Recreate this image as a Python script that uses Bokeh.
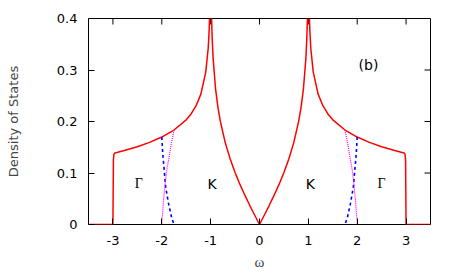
from bokeh.plotting import figure
from bokeh.models import Range1d, FixedTicker, Label
from bokeh.embed import file_html
from bokeh.resources import INLINE

# ---- data ----
omega = [-3.5, -3.0, -2.99, -2.98, -2.96, -2.9, -2.75, -2.5, -2.25, -2.0, -1.75, -1.5, -1.4,
         -1.3, -1.2, -1.1, -1.05, -1.03, -1.02, -1.01, -1.0, -0.99, -0.98, -0.97, -0.95,
         -0.9, -0.85, -0.8, -0.7, -0.6, -0.5, -0.4, -0.3, -0.2, -0.1, 0.0,
         0.1, 0.2, 0.3, 0.4, 0.5, 0.6, 0.7, 0.8, 0.85, 0.9, 0.95, 0.97, 0.98, 0.99, 1.0,
         1.01, 1.02, 1.03, 1.05, 1.1, 1.2, 1.3, 1.4, 1.5, 1.75, 2.0, 2.25, 2.5, 2.75, 2.9,
         2.96, 2.98, 2.99, 3.0, 3.5]
dos = [0.0, 0.0, 0.125, 0.136, 0.139, 0.1402, 0.1440, 0.1511, 0.1595, 0.1698, 0.1834, 0.2033, 0.2147,
       0.2302, 0.2532, 0.2959, 0.3422, 0.3779, 0.407, 0.46, 0.5, 0.45, 0.398, 0.3656, 0.3236,
       0.264, 0.2271, 0.1996, 0.1585, 0.1271, 0.1008, 0.0778, 0.0569, 0.0373, 0.0184, 0.0,
       0.0184, 0.0373, 0.0569, 0.0778, 0.1008, 0.1271, 0.1585, 0.1996, 0.2271, 0.264, 0.3236, 0.3656, 0.398, 0.45, 0.5,
       0.46, 0.407, 0.3779, 0.3422, 0.2959, 0.2532, 0.2302, 0.2147, 0.2033, 0.1834, 0.1698, 0.1595, 0.1511, 0.1440, 0.1402,
       0.139, 0.136, 0.125, 0.0, 0.0]

blue_left_w = [-2.0, -1.98, -1.95, -1.92, -1.86, -1.80, -1.75]
blue_left_v = [0.170, 0.137, 0.105, 0.072, 0.040, 0.014, 0.0]
mag_left_w = [-1.75, -1.82, -1.85, -1.90, -1.94, -1.97, -2.0]
mag_left_v = [0.183, 0.150, 0.131, 0.105, 0.072, 0.040, 0.0]
blue_right_w = [2.0, 1.98, 1.95, 1.92, 1.86, 1.80, 1.75]
blue_right_v = [0.170, 0.137, 0.105, 0.072, 0.040, 0.014, 0.0]
mag_right_w = [1.75, 1.82, 1.85, 1.90, 1.94, 1.97, 2.0]
mag_right_v = [0.183, 0.150, 0.131, 0.105, 0.072, 0.040, 0.0]

x_ticks = [-3, -2, -1, 0, 1, 2, 3]
x_tick_labels = ["-3", "-2", "-1", "0", "1", "2", "3"]
y_ticks = [0, 0.1, 0.2, 0.3, 0.4]
y_tick_labels = ["0", "0.1", "0.2", "0.3", "0.4"]

x_label = "ω"
y_label = "Density of States"
point_labels = ["Γ", "K", "K", "Γ"]
panel_label = "(b)"

FONT = "DejaVu Sans"
X0, X1, Y0, Y1 = -3.5, 3.5, 0.0, 0.4
W, H = 463, 273
BL, BR, BT, BB = 88, 33, 18, 49

p = figure(width=W, height=H, x_range=Range1d(X0, X1), y_range=Range1d(Y0, Y1),
           output_backend="svg", toolbar_location=None,
           min_border_left=BL, min_border_right=BR, min_border_top=BT, min_border_bottom=BB)
p.grid.visible = False
p.outline_line_color = "black"
p.outline_line_width = 1
p.outline_line_alpha = 1
p.background_fill_color = "white"
p.border_fill_color = "white"

def style_axis(ax, ticks, labels):
    ax.ticker = FixedTicker(ticks=ticks, minor_ticks=[])
    ax.axis_line_color = None
    ax.major_tick_in = 6
    ax.major_tick_out = 0
    ax.major_tick_line_color = "black"
    ax.major_tick_line_width = 1
    ax.minor_tick_line_color = None
    ax.major_label_overrides = {t: l for t, l in zip(ticks, labels)}
    ax.major_label_text_font = FONT
    ax.major_label_text_font_size = "13px"
    ax.major_label_text_color = "black"

xa = p.xaxis[0]
style_axis(xa, x_ticks, x_tick_labels)
xa.major_label_standoff = 11
xa.axis_label = x_label
xa.axis_label_text_font = "Liberation Serif"
xa.axis_label_text_font_style = "normal"
xa.axis_label_text_font_size = "15px"
xa.axis_label_standoff = 6

ya = p.yaxis[0]
style_axis(ya, y_ticks, y_tick_labels)
ya.major_label_standoff = 11
ya.axis_label = y_label
ya.axis_label_text_font = FONT
ya.axis_label_text_font_style = "normal"
ya.axis_label_text_font_size = "13px"
ya.axis_label_standoff = 33

# mirrored inward ticks on the top and right edges (6 px long)
frame_w = W - BL - BR
frame_h = H - BT - BB
tick_dy = 6 * (Y1 - Y0) / frame_h
tick_dx = 6 * (X1 - X0) / frame_w
p.segment(x0=x_ticks, y0=[Y1] * len(x_ticks), x1=x_ticks, y1=[Y1 - tick_dy] * len(x_ticks),
          line_color="black", line_width=1)
p.segment(x0=[X1] * len(y_ticks), y0=y_ticks, x1=[X1 - tick_dx] * len(y_ticks), y1=y_ticks,
          line_color="black", line_width=1)

p.line(omega, dos, line_color="#ff0000", line_width=1.5)
p.line(blue_left_w, blue_left_v, line_color="#0000ff", line_width=1.6, line_dash="3 3")
p.line(blue_right_w, blue_right_v, line_color="#0000ff", line_width=1.6, line_dash="3 3")
p.line(mag_left_w, mag_left_v, line_color="#ff00ff", line_width=1.2, line_dash="1 1")
p.line(mag_right_w, mag_right_v, line_color="#ff00ff", line_width=1.2, line_dash="1 1")

label_pos = [(-2.47, 0.079), (-0.97, 0.079), (1.04, 0.079), (2.5, 0.079)]
for txt, (lx, ly) in zip(point_labels, label_pos):
    serif = txt == "Γ"
    p.add_layout(Label(x=lx, y=ly, text=txt, text_align="center", text_baseline="middle",
                       text_font="Liberation Serif" if serif else FONT,
                       text_font_size="14px", text_color="black"))
p.add_layout(Label(x=2.23, y=0.309, text=panel_label, text_align="center", text_baseline="middle",
                   text_font=FONT, text_font_size="14px", text_color="black"))

open("out.html", "w").write(file_html(p, INLINE))
